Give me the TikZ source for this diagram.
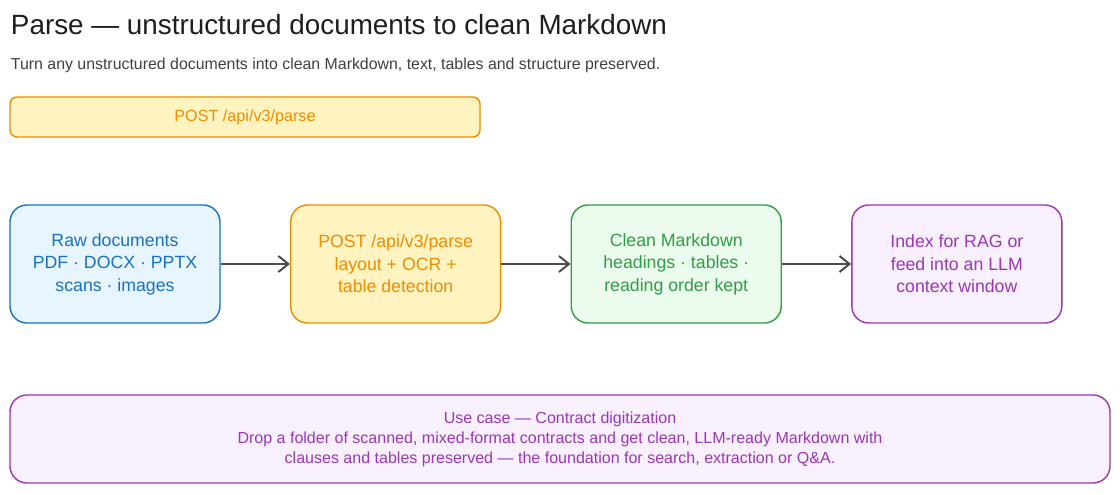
\documentclass[tikz,border=0pt]{standalone}
\usepackage{fontspec}
\setmainfont{Liberation Sans}
\usetikzlibrary{arrows.meta, positioning}
\definecolor{bluestroke}{HTML}{1971C2}
\definecolor{bluefill}{HTML}{E7F5FF}
\definecolor{orangestroke}{HTML}{F08C00}
\definecolor{orangefill}{HTML}{FFF3BF}
\definecolor{greenstroke}{HTML}{2F9E44}
\definecolor{greenfill}{HTML}{EBFBEE}
\definecolor{purplestroke}{HTML}{9C36B5}
\definecolor{purplefill}{HTML}{F8F0FC}
\definecolor{inkgray}{HTML}{1E1E1E}
\tikzset{
  stagebox/.style={draw=#1stroke, fill=#1fill, text=#1stroke, rounded corners=12pt,
    line width=1pt, minimum width=52.5mm, minimum height=29.5mm, align=center,
    font=\fontsize{12.6}{16}\selectfont},
  flow/.style={draw=inkgray!80, line width=1.4pt, -{Straight Barb[length=2.5mm, width=4mm]}}
}
\begin{document}
\begin{tikzpicture}[x=0.25mm, y=0.25mm]
        \useasboundingbox[fill=white] (0,0) rectangle (1120,-494);
        \node[anchor=west, text=inkgray, font=\fontsize{19.8}{23}\selectfont] (title) at (6,-25) {Parse — unstructured documents to clean Markdown};
        \node[anchor=west, text=inkgray!85, font=\fontsize{11.3}{13}\selectfont] (subtitle) at (6,-65) {Turn any unstructured documents into clean Markdown, text, tables and structure preserved.};
        \node[draw=orangestroke, fill=orangefill, text=orangestroke, rounded corners=5pt, line width=1pt,
              minimum width=117.5mm, minimum height=10mm, font=\fontsize{11.5}{13}\selectfont] (endpoint) at (245,-117) {POST /api/v3/parse};
        % pipeline stages
        \node[stagebox=blue] (raw) at (115,-264) {Raw documents\\PDF · DOCX · PPTX\\scans · images};
        \node[stagebox=orange, right=17.3mm of raw] (parse) {POST /api/v3/parse\\layout + OCR +\\table detection};
        \node[stagebox=green, right=17.3mm of parse] (markdown) {Clean Markdown\\headings · tables ·\\reading order kept};
        \node[stagebox=purple, right=17.3mm of markdown] (index) {Index for RAG or\\feed into an LLM\\context window};
        \draw[flow] (raw) -- (parse);
        \draw[flow] (parse) -- (markdown);
        \draw[flow] (markdown) -- (index);
        \node[draw=purplestroke, fill=purplefill, text=purplestroke, rounded corners=12pt, line width=1pt,
              minimum width=275mm, minimum height=22mm, align=center, font=\fontsize{11.4}{14.2}\selectfont] (usecase) at (560,-439)
              {Use case — Contract digitization\\Drop a folder of scanned, mixed-format contracts and get clean, LLM-ready Markdown with\\clauses and tables preserved — the foundation for search, extraction or Q\&A.};
\end{tikzpicture}
\end{document}
